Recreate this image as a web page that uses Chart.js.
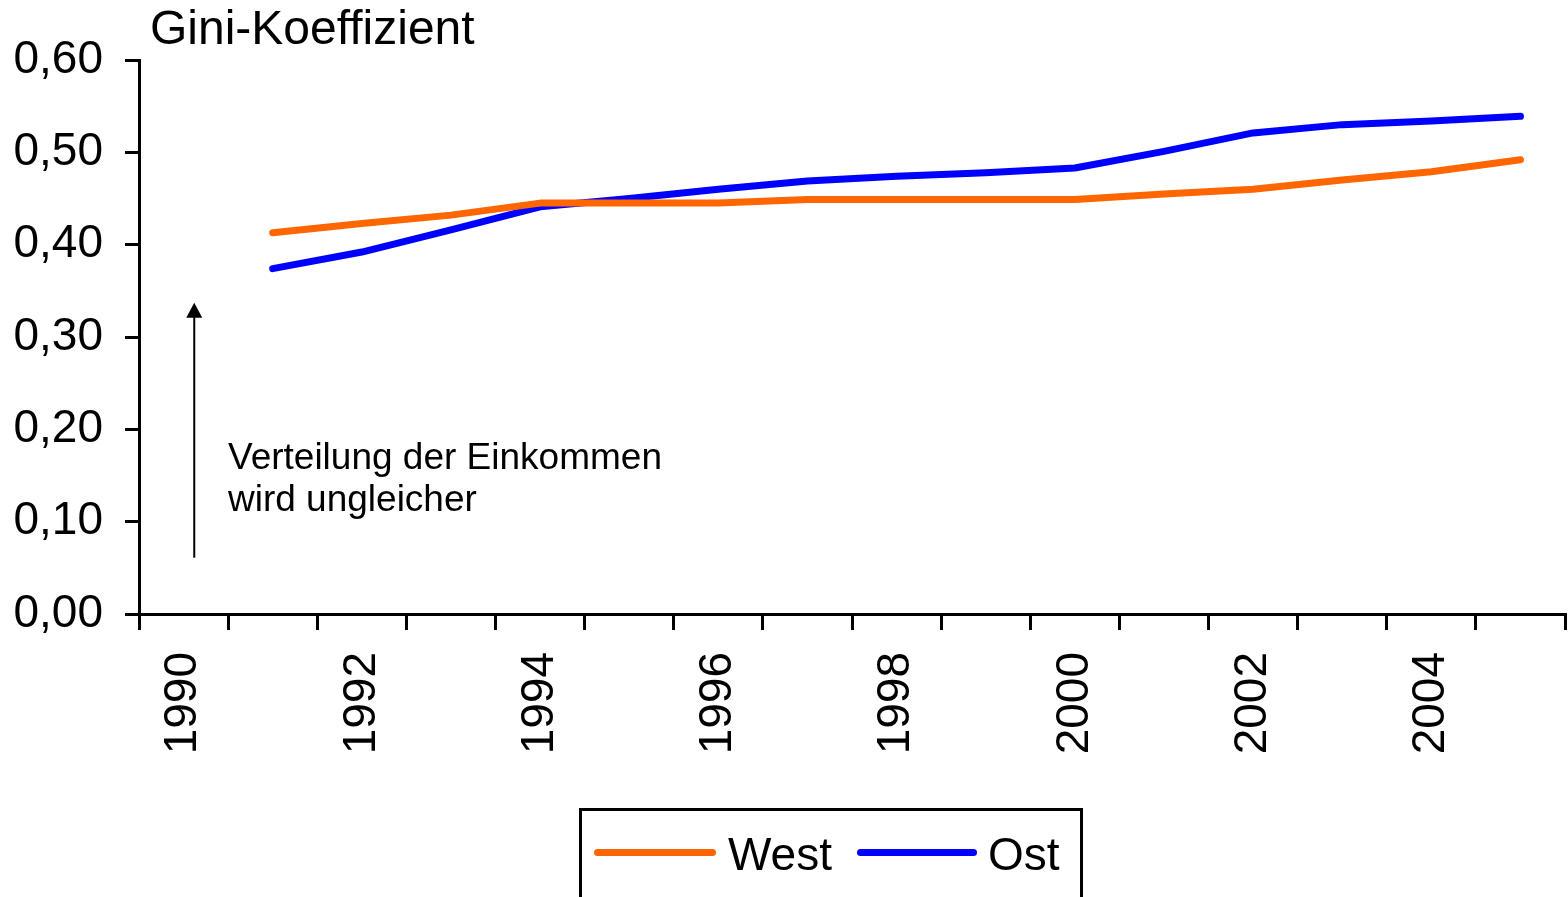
<!DOCTYPE html>
<html>
<head>
<meta charset="utf-8">
<script src="https://cdn.jsdelivr.net/npm/chart.js@4/dist/chart.umd.min.js"></script>
<style>
body { margin: 0; background: #fff; }
#wrap { position: relative; width: 1568px; height: 897px; overflow: hidden;
        font-family: "Liberation Sans", Arial, sans-serif; color: #000; }
#chart { position: absolute; left: 0; top: 0; }
#title { position: absolute; left: 150px; top: 1px; font-size: 48px; line-height: 54px; white-space: nowrap; }
#note { position: absolute; left: 228px; top: 436px; font-size: 37px; line-height: 42px; white-space: nowrap; }
#legend { position: absolute; left: 579px; top: 808px; width: 504px; height: 120px; border: 3px solid #000; box-sizing: border-box; }
.swatch { position: absolute; top: 849px; height: 7px; border-radius: 4px; }
.ltext { position: absolute; top: 828px; font-size: 46px; line-height: 52px; white-space: nowrap; }
</style>
</head>
<body>
<div id="wrap">
  <canvas id="chart" width="1568" height="897"></canvas>
  <div id="title">Gini-Koeffizient</div>
  <div id="note">Verteilung der Einkommen<br>wird ungleicher</div>
  <div id="legend"></div>
  <div class="swatch" style="left:594px;width:122px;background:#FF6600"></div>
  <div class="ltext" style="left:728px">West</div>
  <div class="swatch" style="left:857px;width:120px;background:#0000FF"></div>
  <div class="ltext" style="left:988px">Ost</div>
</div>
<script>
// Data
const years = ['1990', '1991', '1992', '1993', '1994', '1995', '1996', '1997',
               '1998', '1999', '2000', '2001', '2002', '2003', '2004', '2005'];
const west = [null, 0.413, 0.423, 0.432, 0.445, 0.445, 0.445, 0.449,
              0.449, 0.449, 0.449, 0.455, 0.460, 0.470, 0.479, 0.492];
const ost = [null, 0.374, 0.392, 0.416, 0.441, 0.450, 0.460, 0.469,
             0.474, 0.478, 0.483, 0.501, 0.521, 0.530, 0.534, 0.539];
const yTicks = [0, 0.1, 0.2, 0.3, 0.4, 0.5, 0.6];

// Annotation arrow (category index / value units)
const arrowX = 0.12;
const arrowFrom = 0.061;
const arrowTo = 0.337;

const FONT = '"Liberation Sans", Arial, sans-serif';

// Arrow pointing up
const arrowPlugin = {
    id: 'arrow',
    afterDatasetsDraw(chart) {
        const { ctx, scales: { x, y } } = chart;
        const px = x.getPixelForValue(arrowX);
        const y0 = y.getPixelForValue(arrowFrom);
        const y1 = y.getPixelForValue(arrowTo);
        ctx.save();
        ctx.strokeStyle = '#000';
        ctx.fillStyle = '#000';
        ctx.lineWidth = 2;
        ctx.beginPath();
        ctx.moveTo(px, y0);
        ctx.lineTo(px, y1 + 12);
        ctx.stroke();
        ctx.beginPath();
        ctx.moveTo(px, y1);
        ctx.lineTo(px - 8, y1 + 15);
        ctx.lineTo(px + 8, y1 + 15);
        ctx.closePath();
        ctx.fill();
        ctx.restore();
    }
};

const ctx = document.getElementById('chart').getContext('2d');
new Chart(ctx, {
    type: 'line',
    data: {
        labels: years,
        datasets: [{
            label: 'West',
            data: west,
            borderColor: '#FF6600',
            borderWidth: 7,
            borderCapStyle: 'round',
            borderJoinStyle: 'round',
            pointRadius: 0,
            tension: 0,
            fill: false
        }, {
            label: 'Ost',
            data: ost,
            borderColor: '#0000FF',
            borderWidth: 7,
            borderCapStyle: 'round',
            borderJoinStyle: 'round',
            pointRadius: 0,
            tension: 0,
            fill: false
        }]
    },
    options: {
        responsive: false,
        animation: false,
        layout: { padding: { top: 60, right: 3, left: 0, bottom: 0 } },
        plugins: {
            legend: { display: false },
            tooltip: { enabled: false }
        },
        scales: {
            x: {
                offset: true,
                grid: {
                    offset: true,
                    drawOnChartArea: false,
                    drawTicks: true,
                    tickLength: 16,
                    color: '#000',
                    lineWidth: 3
                },
                border: { color: '#000', width: 3 },
                ticks: {
                    autoSkip: false,
                    minRotation: 90,
                    maxRotation: 90,
                    padding: 22,
                    color: '#000',
                    font: { family: FONT, size: 46 },
                    callback: function (val, index) {
                        return index % 2 === 0 ? years[index] : '';
                    }
                },
                afterFit: function (scale) {
                    scale.height = 283;
                    scale.paddingRight = 0;
                    scale.paddingLeft = 0;
                }
            },
            y: {
                min: 0,
                max: 0.6,
                afterBuildTicks: function (scale) {
                    scale.ticks = yTicks.map(v => ({ value: v }));
                },
                grid: {
                    drawOnChartArea: false,
                    drawTicks: true,
                    tickLength: 14,
                    color: '#000',
                    lineWidth: 3
                },
                border: { color: '#000', width: 3 },
                ticks: {
                    padding: 22,
                    color: '#000',
                    font: { family: FONT, size: 46 },
                    callback: function (v) {
                        return Number(v).toFixed(2).replace('.', ',');
                    }
                },
                afterFit: function (scale) {
                    scale.width = 139;
                    scale.paddingTop = 0;
                    scale.paddingBottom = 0;
                }
            }
        }
    },
    plugins: [arrowPlugin]
});
</script>
</body>
</html>
